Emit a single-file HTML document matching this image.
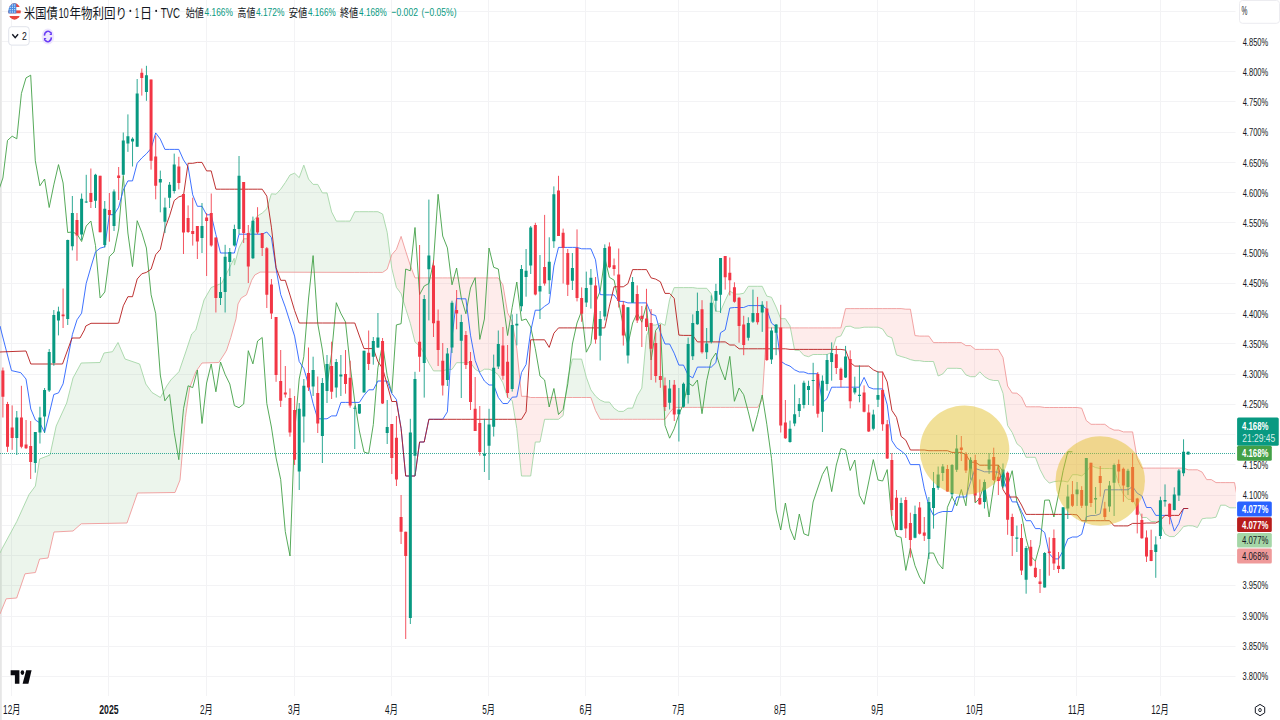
<!DOCTYPE html><html lang="ja"><head><meta charset="utf-8"><title>chart</title><style>html,body{margin:0;padding:0;background:#fff;font-family:"Liberation Sans","Noto Sans CJK JP",sans-serif}body{width:1280px;height:720px;overflow:hidden}svg{display:block}svg text{font-family:"Liberation Sans","Noto Sans CJK JP",sans-serif}</style></head><body><svg width="1280" height="720" viewBox="0 0 1280 720"><rect width="1280" height="720" fill="#fff"/><rect x="0" y="0" width="1.8" height="720" fill="#e6e6e6"/><path d="M11.5 0V696M108.5 0V696M206.5 0V696M294.5 0V696M391.5 0V696M488.5 0V696M585.5 0V696M678.5 0V696M780.5 0V696M877.5 0V696M974.5 0V696M1076.5 0V696M1160.5 0V696M2 11.5H1235.5M2 41.5H1235.5M2 71.5H1235.5M2 101.5H1235.5M2 132.5H1235.5M2 162.5H1235.5M2 192.5H1235.5M2 222.5H1235.5M2 253.5H1235.5M2 283.5H1235.5M2 313.5H1235.5M2 343.5H1235.5M2 374.5H1235.5M2 404.5H1235.5M2 434.5H1235.5M2 464.5H1235.5M2 495.5H1235.5M2 525.5H1235.5M2 555.5H1235.5M2 585.5H1235.5M2 616.5H1235.5M2 646.5H1235.5M2 676.5H1235.5" stroke="#f3f3f5" stroke-width="1" fill="none"/><defs><clipPath id="pane"><rect x="0" y="0" width="1236" height="697"/></clipPath></defs><g clip-path="url(#pane)"><path d="M0.0 553.0L2.0 548.8L6.2 540.9L16.7 521.7L25.0 503.4L29.0 494.6L35.4 486.0L39.6 459.0L48.0 455.8L50.0 455.0L54.0 436.4L56.2 426.0L66.7 403.0L73.0 378.0L81.2 363.0L100.0 362.5L104.0 353.0L112.5 351.7L118.0 342.5L125.0 359.0L127.0 359.7L137.5 363.3L139.6 364.0L145.8 384.0L152.0 392.5L160.4 397.5L166.7 386.0L170.8 380.0L175.0 375.7L179.0 371.7L180.0 368.8L185.4 353.0L189.6 340.3L191.7 334.0L195.8 330.0L202.0 307.3L204.0 300.0L211.2 287.5L218.8 284.5L221.7 283.3L225.0 276.7L226.7 273.3L229.0 268.8L230.8 265.1L234.2 258.3L234.4 265.1L236.0 259.2L238.0 251.7L239.0 247.9L241.2 243.5L243.7 238.8L246.5 238.8L248.3 238.8L251.7 225.8L252.9 221.1L254.8 219.0L257.6 215.9L260.0 214.4L262.2 213.1L266.8 208.8L271.4 193.8L276.1 194.2L280.7 189.2L285.3 182.6L290.0 175.0L294.6 173.2L299.2 177.7L303.8 165.1L308.5 179.0L313.1 184.4L317.7 184.4L322.4 192.9L327.0 192.9L331.6 211.9L336.3 221.1L340.9 221.1L345.5 221.1L350.1 221.1L354.8 211.7L359.4 211.7L364.0 211.7L368.7 211.7L373.3 211.7L377.9 211.7L382.6 214.0L387.2 232.4L390.6 258.6L390.6 258.6L387.2 269.2L382.6 272.4L377.9 272.4L373.3 272.4L368.7 272.4L364.0 272.4L359.4 272.4L354.8 272.4L350.1 272.4L345.5 272.4L340.9 272.4L336.3 272.3L331.6 272.3L327.0 272.3L322.4 272.3L317.7 272.3L313.1 272.3L308.5 272.3L303.8 272.2L299.2 272.2L294.6 272.2L290.0 272.2L285.3 272.2L280.7 272.2L276.1 272.2L271.4 272.1L266.8 272.1L262.2 272.1L260.0 272.1L257.6 273.5L254.8 275.0L252.9 278.2L251.7 280.2L248.3 289.8L246.5 294.8L243.7 296.5L241.2 298.0L239.0 302.1L238.0 304.0L236.0 318.8L234.4 324.5L234.2 325.2L230.8 337.5L229.0 343.0L226.7 350.0L225.0 353.0L221.7 358.0L218.8 362.5L211.2 362.7L204.0 362.9L202.0 363.0L195.8 371.7L191.7 382.5L189.6 388.0L185.4 417.5L180.0 480.0L179.0 482.5L175.0 492.5L170.8 492.6L166.7 492.6L160.4 492.7L152.0 492.8L145.8 492.9L139.6 493.0L137.5 493.0L127.0 523.0L125.0 523.0L118.0 523.1L112.5 523.2L104.0 523.4L100.0 523.4L81.2 523.8L73.0 531.0L66.7 531.3L56.2 531.9L54.0 532.0L50.0 549.3L48.0 558.0L39.6 559.0L35.4 572.5L29.0 573.3L25.0 573.8L16.7 598.0L6.2 598.8L2.0 609.0L0.0 614.0ZM565.4 397.5L567.8 378.4L572.4 359.0L577.0 359.1L581.6 359.1L586.3 377.2L590.9 389.9L595.5 396.1L600.2 400.1L604.8 402.1L609.4 402.1L614.1 408.3L618.7 411.4L623.3 411.4L627.9 408.2L632.6 408.1L637.2 395.9L641.8 388.1L646.5 335.5L651.1 325.0L655.7 325.0L660.4 323.1L665.0 325.4L669.6 299.5L674.2 287.6L678.9 287.6L683.5 287.6L688.1 287.6L692.8 287.6L697.4 288.3L702.0 288.3L706.7 288.3L711.3 293.8L715.9 311.2L720.5 311.4L725.2 300.5L729.8 290.9L734.4 294.1L739.1 294.1L743.7 293.3L748.3 286.3L753.0 286.3L757.6 286.3L762.2 286.3L766.8 296.1L771.5 297.3L776.1 307.1L780.7 318.7L785.4 318.7L790.0 325.8L790.4 327.9L790.4 327.9L790.0 327.9L785.4 327.9L780.7 327.9L776.1 327.9L771.5 327.9L766.8 327.9L762.2 399.9L757.6 407.4L753.0 407.4L748.3 407.4L743.7 407.4L739.1 407.4L734.4 407.4L729.8 407.4L725.2 407.4L720.5 407.4L715.9 407.4L711.3 407.4L706.7 407.4L702.0 407.4L697.4 407.4L692.8 407.4L688.1 407.4L683.5 407.4L678.9 407.4L674.2 407.4L669.6 412.7L665.0 419.3L660.4 419.3L655.7 419.3L651.1 419.3L646.5 419.3L641.8 419.3L637.2 419.3L632.6 419.3L627.9 419.3L623.3 419.3L618.7 419.3L614.1 419.3L609.4 419.3L604.8 419.3L600.2 419.3L595.5 410.5L590.9 397.5L586.3 397.5L581.6 397.5L577.0 397.5L572.4 397.5L567.8 397.5L565.4 397.5ZM1239.7 507.8L1243.7 507.8L1248.4 504.9L1253.0 508.3L1257.6 509.6L1261.5 514.4L1261.5 514.4L1257.6 514.4L1253.0 514.4L1248.4 514.4L1243.7 514.4L1239.7 507.8ZM1296.8 514.4L1299.3 508.5L1303.9 508.5L1303.9 514.4L1299.3 514.4L1296.8 514.4Z" fill="#43a047" fill-opacity="0.1"/><path d="M390.6 258.6L391.8 268.3L396.4 287.4L401.1 293.7L405.7 308.5L410.3 323.3L415.0 342.2L419.6 345.8L424.2 353.8L428.9 363.2L433.5 370.9L438.1 370.9L442.7 370.9L447.4 369.4L452.0 369.4L456.6 362.7L461.3 362.7L465.9 362.7L470.5 362.7L475.2 369.2L479.8 372.0L484.4 369.2L489.0 369.2L493.7 371.2L498.3 374.8L502.9 382.8L507.6 397.5L512.2 400.5L516.8 428.5L521.5 476.0L526.1 476.0L530.7 476.0L535.3 442.0L540.0 442.0L544.6 419.3L549.2 419.3L553.9 419.3L558.5 419.3L563.1 415.6L565.4 397.5L565.4 397.5L563.1 397.5L558.5 397.5L553.9 397.5L549.2 397.5L544.6 397.5L540.0 397.5L535.3 397.5L530.7 397.5L526.1 396.3L521.5 396.3L516.8 348.8L512.2 321.8L507.6 312.8L502.9 284.8L498.3 277.9L493.7 277.9L489.0 277.9L484.4 277.9L479.8 277.9L475.2 277.9L470.5 277.9L465.9 277.9L461.3 277.9L456.6 277.9L452.0 277.9L447.4 277.9L442.7 277.9L438.1 277.9L433.5 277.9L428.9 277.9L424.2 277.9L419.6 277.9L415.0 277.9L410.3 265.4L405.7 251.2L401.1 236.4L396.4 249.4L391.8 254.7L390.6 258.6ZM790.4 327.9L794.6 350.1L799.3 350.3L803.9 355.4L808.5 356.7L813.1 354.5L817.8 354.5L822.4 354.5L827.0 354.5L831.7 352.3L836.3 337.4L840.9 335.9L845.6 326.5L850.2 326.2L854.8 328.1L859.4 328.1L864.1 327.2L868.7 327.2L873.3 327.2L878.0 327.2L882.6 329.0L887.2 335.9L891.9 337.8L896.5 354.9L901.1 356.5L905.8 357.8L910.4 359.6L915.0 360.7L919.6 360.7L924.3 361.5L928.9 361.5L933.5 361.5L938.2 376.0L942.8 373.9L947.4 368.3L952.0 368.3L956.7 368.3L961.3 368.6L965.9 374.9L970.6 376.7L975.2 376.7L979.8 371.8L984.5 376.7L989.1 379.4L993.7 380.5L998.3 380.5L1003.0 393.3L1007.6 425.5L1012.2 432.5L1016.9 443.7L1021.5 447.5L1026.1 457.3L1030.8 457.3L1035.4 457.3L1040.0 469.4L1044.7 478.4L1049.3 483.1L1053.9 481.7L1058.5 481.1L1063.2 481.1L1067.8 482.0L1072.4 474.7L1077.1 474.7L1081.7 475.9L1086.3 472.0L1091.0 465.4L1095.6 467.6L1100.2 468.5L1104.8 468.5L1109.5 468.5L1114.1 468.8L1118.7 483.8L1123.4 494.1L1128.0 499.4L1132.6 499.4L1137.2 508.2L1141.9 517.5L1146.5 517.5L1151.1 521.5L1155.8 521.5L1160.4 523.5L1165.0 534.0L1169.7 536.6L1174.3 536.6L1178.9 532.4L1183.5 526.6L1188.2 525.7L1192.8 525.9L1197.4 527.5L1202.1 518.8L1206.7 518.1L1211.3 518.1L1216.0 517.2L1220.6 505.2L1225.2 505.2L1229.9 507.8L1234.5 507.8L1239.1 507.8L1239.7 507.8L1239.7 507.8L1239.1 506.9L1234.5 482.6L1229.9 482.6L1225.2 482.6L1220.6 482.6L1216.0 482.6L1211.3 479.6L1206.7 479.6L1202.1 472.1L1197.4 469.8L1192.8 469.8L1188.2 469.8L1183.5 468.1L1178.9 468.1L1174.3 468.1L1169.7 468.1L1165.0 468.1L1160.4 468.1L1155.8 468.1L1151.1 468.1L1146.5 468.1L1141.9 468.1L1137.2 458.7L1132.6 431.9L1128.0 431.9L1123.4 431.9L1118.7 430.1L1114.1 430.1L1109.5 427.9L1104.8 424.3L1100.2 424.3L1095.6 424.3L1091.0 424.3L1086.3 420.6L1081.7 408.2L1077.1 407.5L1072.4 407.5L1067.8 407.5L1063.2 407.5L1058.5 407.5L1053.9 407.5L1049.3 407.5L1044.7 407.5L1040.0 406.8L1035.4 406.8L1030.8 406.8L1026.1 406.8L1021.5 397.0L1016.9 393.2L1012.2 393.0L1007.6 386.0L1003.0 357.5L998.3 349.4L993.7 349.4L989.1 349.4L984.5 349.4L979.8 349.4L975.2 349.4L970.6 345.6L965.9 345.6L961.3 342.6L956.7 342.6L952.0 342.6L947.4 342.6L942.8 342.6L938.2 342.6L933.5 342.6L928.9 336.1L924.3 336.1L919.6 336.1L915.0 335.6L910.4 309.2L905.8 309.2L901.1 308.6L896.5 308.6L891.9 308.6L887.2 308.6L882.6 308.6L878.0 308.6L873.3 308.6L868.7 308.6L864.1 308.6L859.4 308.6L854.8 308.6L850.2 308.6L845.6 308.6L840.9 327.9L836.3 327.9L831.7 327.9L827.0 327.9L822.4 327.9L817.8 327.9L813.1 327.9L808.5 327.9L803.9 327.9L799.3 327.9L794.6 327.9L790.4 327.9ZM1261.5 514.4L1262.3 515.2L1266.9 515.2L1271.5 519.2L1276.2 517.8L1280.8 515.4L1285.4 515.4L1290.0 523.2L1294.7 519.4L1296.8 514.4L1296.8 514.4L1294.7 514.4L1290.0 514.4L1285.4 514.4L1280.8 514.4L1276.2 514.4L1271.5 514.4L1266.9 514.4L1262.3 514.4L1261.5 514.4Z" fill="#f44336" fill-opacity="0.1"/><polyline points="0.0,553.0 2.0,548.8 16.7,521.7 29.0,494.6 35.4,486.0 39.6,459.0 50.0,455.0 56.2,426.0 66.7,403.0 73.0,378.0 81.2,363.0 100.0,362.5 104.0,353.0 112.5,351.7 118.0,342.5 125.0,359.0 139.6,364.0 145.8,384.0 152.0,392.5 160.4,397.5 166.7,386.0 170.8,380.0 179.0,371.7 185.4,353.0 191.7,334.0 195.8,330.0 204.0,300.0 211.2,287.5 221.7,283.3 229.0,268.8 234.2,258.3 234.4,265.1 239.0,247.9 243.7,238.8 248.3,238.8 252.9,221.1 257.6,215.9 262.2,213.1 266.8,208.8 271.4,193.8 276.1,194.2 280.7,189.2 285.3,182.6 290.0,175.0 294.6,173.2 299.2,177.7 303.8,165.1 308.5,179.0 313.1,184.4 317.7,184.4 322.4,192.9 327.0,192.9 331.6,211.9 336.3,221.1 340.9,221.1 345.5,221.1 350.1,221.1 354.8,211.7 359.4,211.7 364.0,211.7 368.7,211.7 373.3,211.7 377.9,211.7 382.6,214.0 387.2,232.4 391.8,268.3 396.4,287.4 401.1,293.7 405.7,308.5 410.3,323.3 415.0,342.2 419.6,345.8 424.2,353.8 428.9,363.2 433.5,370.9 438.1,370.9 442.7,370.9 447.4,369.4 452.0,369.4 456.6,362.7 461.3,362.7 465.9,362.7 470.5,362.7 475.2,369.2 479.8,372.0 484.4,369.2 489.0,369.2 493.7,371.2 498.3,374.8 502.9,382.8 507.6,397.5 512.2,400.5 516.8,428.5 521.5,476.0 526.1,476.0 530.7,476.0 535.3,442.0 540.0,442.0 544.6,419.3 549.2,419.3 553.9,419.3 558.5,419.3 563.1,415.6 567.8,378.4 572.4,359.0 577.0,359.1 581.6,359.1 586.3,377.2 590.9,389.9 595.5,396.1 600.2,400.1 604.8,402.1 609.4,402.1 614.1,408.3 618.7,411.4 623.3,411.4 627.9,408.2 632.6,408.1 637.2,395.9 641.8,388.1 646.5,335.5 651.1,325.0 655.7,325.0 660.4,323.1 665.0,325.4 669.6,299.5 674.2,287.6 678.9,287.6 683.5,287.6 688.1,287.6 692.8,287.6 697.4,288.3 702.0,288.3 706.7,288.3 711.3,293.8 715.9,311.2 720.5,311.4 725.2,300.5 729.8,290.9 734.4,294.1 739.1,294.1 743.7,293.3 748.3,286.3 753.0,286.3 757.6,286.3 762.2,286.3 766.8,296.1 771.5,297.3 776.1,307.1 780.7,318.7 785.4,318.7 790.0,325.8 794.6,350.1 799.3,350.3 803.9,355.4 808.5,356.7 813.1,354.5 817.8,354.5 822.4,354.5 827.0,354.5 831.7,352.3 836.3,337.4 840.9,335.9 845.6,326.5 850.2,326.2 854.8,328.1 859.4,328.1 864.1,327.2 868.7,327.2 873.3,327.2 878.0,327.2 882.6,329.0 887.2,335.9 891.9,337.8 896.5,354.9 901.1,356.5 905.8,357.8 910.4,359.6 915.0,360.7 919.6,360.7 924.3,361.5 928.9,361.5 933.5,361.5 938.2,376.0 942.8,373.9 947.4,368.3 952.0,368.3 956.7,368.3 961.3,368.6 965.9,374.9 970.6,376.7 975.2,376.7 979.8,371.8 984.5,376.7 989.1,379.4 993.7,380.5 998.3,380.5 1003.0,393.3 1007.6,425.5 1012.2,432.5 1016.9,443.7 1021.5,447.5 1026.1,457.3 1030.8,457.3 1035.4,457.3 1040.0,469.4 1044.7,478.4 1049.3,483.1 1053.9,481.7 1058.5,481.1 1063.2,481.1 1067.8,482.0 1072.4,474.7 1077.1,474.7 1081.7,475.9 1086.3,472.0 1091.0,465.4 1095.6,467.6 1100.2,468.5 1104.8,468.5 1109.5,468.5 1114.1,468.8 1118.7,483.8 1123.4,494.1 1128.0,499.4 1132.6,499.4 1137.2,508.2 1141.9,517.5 1146.5,517.5 1151.1,521.5 1155.8,521.5 1160.4,523.5 1165.0,534.0 1169.7,536.6 1174.3,536.6 1178.9,532.4 1183.5,526.6 1188.2,525.7 1192.8,525.9 1197.4,527.5 1202.1,518.8 1206.7,518.1 1211.3,518.1 1216.0,517.2 1220.6,505.2 1225.2,505.2 1229.9,507.8 1234.5,507.8 1239.1,507.8 1243.7,507.8 1248.4,504.9 1253.0,508.3 1257.6,509.6 1262.3,515.2 1266.9,515.2 1271.5,519.2 1276.2,517.8 1280.8,515.4 1285.4,515.4 1290.0,523.2 1294.7,519.4 1299.3,508.5 1303.9,508.5" fill="none" stroke="#a5d6a7" stroke-width="0.9" stroke-linejoin="round" /><polyline points="0.0,614.0 2.0,609.0 6.2,598.8 16.7,598.0 25.0,573.8 35.4,572.5 39.6,559.0 48.0,558.0 54.0,532.0 73.0,531.0 81.2,523.8 127.0,523.0 137.5,493.0 175.0,492.5 180.0,480.0 185.4,417.5 189.6,388.0 195.8,371.7 202.0,363.0 218.8,362.5 225.0,353.0 226.7,350.0 230.8,337.5 236.0,318.8 238.0,304.0 241.2,298.0 246.5,294.8 251.7,280.2 254.8,275.0 260.0,272.1 354.8,272.4 359.4,272.4 364.0,272.4 368.7,272.4 373.3,272.4 377.9,272.4 382.6,272.4 387.2,269.2 391.8,254.7 396.4,249.4 401.1,236.4 405.7,251.2 410.3,265.4 415.0,277.9 419.6,277.9 424.2,277.9 428.9,277.9 433.5,277.9 438.1,277.9 442.7,277.9 447.4,277.9 452.0,277.9 456.6,277.9 461.3,277.9 465.9,277.9 470.5,277.9 475.2,277.9 479.8,277.9 484.4,277.9 489.0,277.9 493.7,277.9 498.3,277.9 502.9,284.8 507.6,312.8 512.2,321.8 516.8,348.8 521.5,396.3 526.1,396.3 530.7,397.5 535.3,397.5 540.0,397.5 544.6,397.5 549.2,397.5 553.9,397.5 558.5,397.5 563.1,397.5 567.8,397.5 572.4,397.5 577.0,397.5 581.6,397.5 586.3,397.5 590.9,397.5 595.5,410.5 600.2,419.3 604.8,419.3 609.4,419.3 614.1,419.3 618.7,419.3 623.3,419.3 627.9,419.3 632.6,419.3 637.2,419.3 641.8,419.3 646.5,419.3 651.1,419.3 655.7,419.3 660.4,419.3 665.0,419.3 669.6,412.7 674.2,407.4 678.9,407.4 683.5,407.4 688.1,407.4 692.8,407.4 697.4,407.4 702.0,407.4 706.7,407.4 711.3,407.4 715.9,407.4 720.5,407.4 725.2,407.4 729.8,407.4 734.4,407.4 739.1,407.4 743.7,407.4 748.3,407.4 753.0,407.4 757.6,407.4 762.2,399.9 766.8,327.9 771.5,327.9 776.1,327.9 780.7,327.9 785.4,327.9 790.0,327.9 794.6,327.9 799.3,327.9 803.9,327.9 808.5,327.9 813.1,327.9 817.8,327.9 822.4,327.9 827.0,327.9 831.7,327.9 836.3,327.9 840.9,327.9 845.6,308.6 850.2,308.6 854.8,308.6 859.4,308.6 864.1,308.6 868.7,308.6 873.3,308.6 878.0,308.6 882.6,308.6 887.2,308.6 891.9,308.6 896.5,308.6 901.1,308.6 905.8,309.2 910.4,309.2 915.0,335.6 919.6,336.1 924.3,336.1 928.9,336.1 933.5,342.6 938.2,342.6 942.8,342.6 947.4,342.6 952.0,342.6 956.7,342.6 961.3,342.6 965.9,345.6 970.6,345.6 975.2,349.4 979.8,349.4 984.5,349.4 989.1,349.4 993.7,349.4 998.3,349.4 1003.0,357.5 1007.6,386.0 1012.2,393.0 1016.9,393.2 1021.5,397.0 1026.1,406.8 1030.8,406.8 1035.4,406.8 1040.0,406.8 1044.7,407.5 1049.3,407.5 1053.9,407.5 1058.5,407.5 1063.2,407.5 1067.8,407.5 1072.4,407.5 1077.1,407.5 1081.7,408.2 1086.3,420.6 1091.0,424.3 1095.6,424.3 1100.2,424.3 1104.8,424.3 1109.5,427.9 1114.1,430.1 1118.7,430.1 1123.4,431.9 1128.0,431.9 1132.6,431.9 1137.2,458.7 1141.9,468.1 1146.5,468.1 1151.1,468.1 1155.8,468.1 1160.4,468.1 1165.0,468.1 1169.7,468.1 1174.3,468.1 1178.9,468.1 1183.5,468.1 1188.2,469.8 1192.8,469.8 1197.4,469.8 1202.1,472.1 1206.7,479.6 1211.3,479.6 1216.0,482.6 1220.6,482.6 1225.2,482.6 1229.9,482.6 1234.5,482.6 1239.1,506.9 1243.7,514.4 1248.4,514.4 1253.0,514.4 1257.6,514.4 1262.3,514.4 1266.9,514.4 1271.5,514.4 1276.2,514.4 1280.8,514.4 1285.4,514.4 1290.0,514.4 1294.7,514.4 1299.3,514.4 1303.9,514.4" fill="none" stroke="#ef9a9a" stroke-width="0.9" stroke-linejoin="round" /><polyline points="-1.7,191.5 2.9,178.0 7.5,140.4 12.2,136.2 16.8,138.8 21.4,93.5 26.0,77.9 30.7,75.2 35.3,160.8 39.9,185.8 44.6,179.0 49.2,207.5 53.8,184.8 58.5,164.6 63.1,183.0 67.7,232.5 72.4,232.0 77.0,234.0 81.6,241.5 86.2,226.0 90.9,221.0 95.5,245.6 100.1,298.0 104.8,292.0 109.4,256.7 114.0,252.0 118.7,229.0 123.3,175.8 127.9,233.0 132.5,266.6 137.2,220.7 141.8,232.5 146.4,248.0 151.1,294.8 155.7,313.6 160.3,375.0 164.9,400.8 169.6,394.5 174.2,432.5 178.8,459.7 183.5,408.7 188.1,385.8 192.7,387.6 197.4,370.0 202.0,423.5 206.6,383.0 211.2,364.0 215.9,391.8 220.5,362.0 225.1,374.4 229.8,384.0 234.4,405.6 239.0,407.7 243.7,404.0 248.3,350.7 252.9,363.9 257.6,341.0 262.2,337.5 266.8,403.5 271.4,427.0 276.1,458.0 280.7,479.5 285.3,531.7 290.0,556.0 294.6,432.5 299.2,379.0 303.8,356.7 308.5,299.0 313.1,255.6 317.7,323.3 322.4,350.0 327.0,385.6 331.6,353.5 336.3,302.7 340.9,313.5 345.5,322.0 350.1,365.0 354.8,402.0 359.4,431.0 364.0,452.0 368.7,453.6 373.3,424.6 377.9,367.8 382.6,344.0 387.2,375.8 391.8,393.0 396.4,324.9 401.1,323.7 405.7,269.0 410.3,270.8 415.0,227.5 419.6,294.6 424.2,286.0 428.9,283.5 433.5,261.8 438.1,194.3 442.7,236.0 447.4,247.9 452.0,284.8 456.6,268.0 461.3,298.0 465.9,313.8 470.5,288.0 475.2,277.7 479.8,339.4 484.4,319.0 489.0,248.0 493.7,267.3 498.3,269.0 502.9,301.0 507.6,335.5 512.2,307.3 516.8,282.0 521.5,320.5 526.1,319.0 530.7,327.0 535.3,348.7 540.0,376.0 544.6,380.0 549.2,407.0 553.9,388.5 558.5,414.5 563.1,409.4 567.8,383.8 572.4,344.0 577.0,323.0 581.6,311.0 586.3,352.2 590.9,343.5 595.5,302.7 600.2,291.0 604.8,258.0 609.4,277.3 614.1,280.2 618.7,301.8 623.3,326.0 627.9,345.0 632.6,323.0 637.2,313.0 641.8,322.2 646.5,304.8 651.1,360.0 655.7,330.4 660.4,324.6 665.0,425.4 669.6,438.2 674.2,428.8 678.9,414.2 683.5,404.0 688.1,382.8 692.8,386.0 697.4,380.0 702.0,413.7 706.7,380.7 711.3,360.0 715.9,353.0 720.5,368.0 725.2,380.0 729.8,356.4 734.4,401.3 739.1,388.0 743.7,394.7 748.3,411.8 753.0,431.4 757.6,414.5 762.2,395.0 766.8,424.2 771.5,458.5 776.1,510.0 780.7,530.0 785.4,503.0 790.0,528.6 794.6,540.0 799.3,514.0 803.9,533.8 808.5,535.7 813.1,502.0 817.8,488.0 822.4,474.5 827.0,466.5 831.7,491.6 836.3,465.0 840.9,448.6 845.6,450.0 850.2,470.5 854.8,460.0 859.4,495.4 864.1,504.3 868.7,482.0 873.3,459.6 878.0,480.0 882.6,481.0 887.2,469.6 891.9,519.8 896.5,536.0 901.1,537.4 905.8,570.4 910.4,548.0 915.0,565.7 919.6,577.0 924.3,584.0 928.9,553.0 933.5,553.0 938.2,563.5 942.8,569.0 947.4,507.3 952.0,496.5 956.7,505.8 961.3,489.5 965.9,505.8 970.6,458.0 975.2,503.0 979.8,498.0 984.5,483.0 989.1,517.0 993.7,485.5 998.3,464.9 1003.0,471.5 1007.6,485.5 1012.2,470.7 1016.9,502.0 1021.5,514.7 1026.1,538.3 1030.8,556.4 1035.4,561.1 1040.0,544.5 1044.7,500.2 1049.3,500.0 1053.9,517.0 1058.5,494.4 1063.2,470.4 1067.8,451.8 1072.4,451.8" fill="none" stroke="#43a047" stroke-width="0.9" stroke-linejoin="round" /><polyline points="0.0,326.0 2.0,334.0 11.5,370.6 20.8,372.7 26.0,379.0 30.8,409.0 35.4,420.0 39.6,422.7 39.9,423.2 44.6,432.4 49.2,414.0 53.8,394.5 58.5,392.9 63.1,383.8 67.7,359.3 72.4,334.4 77.0,319.8 81.6,313.2 86.2,283.4 90.9,267.1 95.5,251.9 100.1,248.2 104.8,246.8 109.4,214.7 114.0,214.7 118.7,207.2 123.3,190.0 127.9,180.9 132.5,180.9 137.2,163.2 141.8,158.0 146.4,153.8 151.1,148.4 155.7,132.9 160.3,139.1 164.9,149.4 169.6,149.4 174.2,149.4 178.8,149.4 183.5,159.9 188.1,166.8 192.7,194.8 197.4,206.3 202.0,206.3 206.6,214.8 211.2,214.8 215.9,234.7 220.5,253.0 225.1,253.0 229.8,253.0 234.4,253.0 239.0,234.2 243.7,234.2 248.3,234.2 252.9,234.2 257.6,234.2 262.2,234.2 266.8,232.0 271.4,237.5 276.1,268.9 280.7,294.5 285.3,307.1 290.0,321.9 294.6,336.1 299.2,361.5 303.8,368.5 308.5,384.5 313.1,403.5 317.7,418.8 322.4,418.8 327.0,418.8 331.6,415.9 336.3,415.9 340.9,402.4 345.5,402.4 350.1,402.4 354.8,402.4 359.4,402.4 364.0,395.4 368.7,389.8 373.3,389.8 377.9,381.0 382.6,381.0 387.2,381.0 391.8,393.5 396.4,399.5 401.1,428.5 405.7,476.0 410.3,476.0 415.0,476.0 419.6,442.0 424.2,442.0 428.9,419.3 433.5,419.3 438.1,419.3 442.7,419.3 447.4,411.8 452.0,337.6 456.6,298.6 461.3,298.8 465.9,298.8 470.5,335.2 475.2,360.5 479.8,372.9 484.4,381.0 489.0,385.0 493.7,385.0 498.3,397.4 502.9,403.5 507.6,403.5 512.2,397.2 516.8,396.9 521.5,372.5 526.1,364.5 530.7,331.2 535.3,310.2 540.0,310.2 544.6,306.3 549.2,303.2 553.9,265.9 558.5,247.4 563.1,247.4 567.8,247.4 572.4,247.4 577.0,247.4 581.6,248.8 586.3,248.8 590.9,248.8 595.5,259.8 600.2,294.6 604.8,294.9 609.4,294.9 614.1,294.9 618.7,301.4 623.3,301.4 627.9,302.9 632.6,302.9 637.2,302.9 641.8,302.9 646.5,302.9 651.1,314.2 655.7,315.5 660.4,332.4 665.0,344.0 669.6,344.0 674.2,353.2 678.9,365.1 683.5,365.1 688.1,375.2 692.8,377.9 697.4,367.1 702.0,367.1 706.7,367.1 711.3,367.1 715.9,362.6 720.5,332.8 725.2,329.8 729.8,308.0 734.4,307.5 739.1,307.5 743.7,307.5 748.3,305.6 753.0,305.6 757.6,305.6 762.2,305.6 766.8,309.2 771.5,323.1 776.1,326.8 780.7,361.1 785.4,364.3 790.0,366.1 794.6,369.8 799.3,372.0 803.9,372.0 808.5,373.7 813.1,373.7 817.8,373.7 822.4,402.7 827.0,398.5 831.7,387.2 836.3,387.2 840.9,387.2 845.6,387.2 850.2,387.2 854.8,387.2 859.4,387.2 864.1,377.4 868.7,387.2 873.3,388.9 878.0,388.9 882.6,388.9 887.2,404.7 891.9,440.7 896.5,447.7 901.1,450.9 905.8,454.8 910.4,464.6 915.0,464.6 919.6,464.6 924.3,488.8 928.9,506.0 933.5,515.5 938.2,512.8 942.8,511.5 947.4,511.5 952.0,511.5 956.7,497.0 961.3,497.0 965.9,497.0 970.6,481.8 975.2,468.5 979.8,470.0 984.5,471.8 989.1,471.8 993.7,471.8 998.3,472.2 1003.0,478.1 1007.6,491.2 1012.2,501.9 1016.9,501.9 1021.5,511.4 1026.1,520.7 1030.8,520.7 1035.4,528.6 1040.0,528.6 1044.7,532.6 1049.3,553.7 1053.9,558.9 1058.5,558.9 1063.2,550.5 1067.8,538.9 1072.4,537.0 1077.1,537.0 1081.7,534.3 1086.3,516.9 1091.0,515.5 1095.6,515.5 1100.2,513.8 1104.8,489.8 1109.5,489.8 1114.1,489.8 1118.7,489.8 1123.4,489.8 1128.0,489.8 1132.6,486.5 1137.2,493.2 1141.9,495.9 1146.5,507.5 1151.1,507.5 1155.8,515.4 1160.4,515.4 1165.0,515.4 1169.7,515.4 1174.3,531.1 1178.9,523.4 1183.5,508.5 1188.2,508.5" fill="none" stroke="#2962ff" stroke-width="0.9" stroke-linejoin="round" /><polyline points="0.0,352.0 2.0,351.9 26.0,351.0 30.8,364.0 62.5,364.0 72.0,338.0 80.0,338.0 84.4,330.0 85.8,326.0 91.0,323.3 117.0,323.3 118.7,323.0 123.3,305.8 127.9,296.7 132.5,296.7 137.2,279.0 141.8,273.8 146.4,272.4 151.1,269.2 155.7,254.7 160.3,249.4 164.9,228.9 169.6,215.8 174.2,200.6 178.8,196.9 183.5,195.4 188.1,163.3 192.7,163.3 197.4,162.4 202.0,162.4 206.6,170.9 211.2,170.9 215.9,189.2 220.5,189.2 225.1,189.2 229.8,189.2 234.4,189.2 239.0,189.2 243.7,189.2 248.3,189.2 252.9,189.2 257.6,189.2 262.2,189.2 266.8,196.1 271.4,227.2 276.1,267.7 280.7,280.3 285.3,280.3 290.0,295.1 294.6,310.5 299.2,323.0 303.8,323.0 308.5,323.0 313.1,323.0 317.7,323.0 322.4,323.0 327.0,323.0 331.6,323.0 336.3,323.0 340.9,323.0 345.5,323.0 350.1,323.0 354.8,323.0 359.4,336.0 364.0,348.6 368.7,348.6 373.3,348.6 377.9,361.5 382.6,368.5 387.2,384.5 391.8,401.5 396.4,401.5 401.1,428.5 405.7,476.0 410.3,476.0 415.0,476.0 419.6,442.0 424.2,442.0 428.9,419.3 433.5,419.3 438.1,419.3 442.7,419.3 447.4,419.3 452.0,419.3 456.6,419.3 461.3,419.3 465.9,419.3 470.5,419.3 475.2,419.3 479.8,419.3 484.4,419.3 489.0,419.3 493.7,419.3 498.3,419.3 502.9,419.3 507.6,419.3 512.2,419.3 516.8,419.3 521.5,419.3 526.1,411.8 530.7,339.8 535.3,339.8 540.0,339.8 544.6,339.8 549.2,347.4 553.9,333.2 558.5,327.9 563.1,327.9 567.8,327.9 572.4,327.9 577.0,327.9 581.6,327.9 586.3,327.9 590.9,327.9 595.5,327.9 600.2,327.9 604.8,327.9 609.4,306.1 614.1,286.8 618.7,286.8 623.3,286.8 627.9,283.7 632.6,269.6 637.2,269.6 641.8,269.6 646.5,269.6 651.1,277.9 655.7,279.1 660.4,281.8 665.0,293.4 669.6,293.4 674.2,298.4 678.9,335.1 683.5,335.4 688.1,335.4 692.8,335.4 697.4,341.9 702.0,341.9 706.7,341.9 711.3,341.9 715.9,341.9 720.5,341.9 725.2,341.9 729.8,345.0 734.4,345.0 739.1,348.8 743.7,348.8 748.3,348.8 753.0,348.8 757.6,348.8 762.2,348.8 766.8,348.8 771.5,348.8 776.1,348.8 780.7,348.8 785.4,348.8 790.0,349.4 794.6,349.4 799.3,349.4 803.9,349.4 808.5,349.4 813.1,349.4 817.8,349.4 822.4,349.4 827.0,349.4 831.7,349.4 836.3,349.4 840.9,349.4 845.6,350.1 850.2,362.5 854.8,366.1 859.4,366.1 864.1,366.1 868.7,366.1 873.3,369.8 878.0,372.0 882.6,372.0 887.2,381.9 891.9,410.4 896.5,417.4 901.1,436.4 905.8,440.2 910.4,450.0 915.0,450.0 919.6,450.0 924.3,450.0 928.9,450.7 933.5,450.7 938.2,450.7 942.8,450.7 947.4,450.7 952.0,452.4 956.7,452.4 961.3,452.4 965.9,454.7 970.6,462.2 975.2,462.2 979.8,465.2 984.5,465.2 989.1,465.2 993.7,465.2 998.3,465.2 1003.0,489.5 1007.6,497.0 1012.2,497.0 1016.9,497.0 1021.5,505.0 1026.1,514.4 1030.8,514.4 1035.4,514.4 1040.0,514.4 1044.7,514.4 1049.3,514.4 1053.9,514.4 1058.5,514.4 1063.2,514.4 1067.8,514.4 1072.4,514.4 1077.1,514.9 1081.7,520.7 1086.3,520.7 1091.0,520.7 1095.6,520.7 1100.2,520.7 1104.8,520.7 1109.5,520.7 1114.1,525.9 1118.7,525.9 1123.4,525.9 1128.0,525.9 1132.6,523.4 1137.2,523.4 1141.9,523.4 1146.5,523.0 1151.1,523.0 1155.8,523.0 1160.4,520.3 1165.0,515.4 1169.7,515.4 1174.3,515.4 1178.9,515.4 1183.5,508.5 1188.2,508.5" fill="none" stroke="#b71c1c" stroke-width="0.9" stroke-linejoin="round" /><path d="M0 453.5H1235" stroke="#089981" stroke-width="1" stroke-dasharray="1 1" stroke-opacity="0.8" fill="none"/><path d="M16.79 411.0V455.0M35.31 432.0V472.7M39.94 406.7V443.5M44.57 388.0V433.0M49.20 349.0V392.0M53.83 310.0V365.8M58.46 306.7V335.4M67.72 239.6V325.0M72.35 196.0V250.4M81.61 193.5V240.0M86.24 174.8V203.0M95.50 173.8V208.0M104.76 201.0V247.5M114.02 189.4V231.0M123.28 132.5V175.8M127.91 114.4V151.9M132.54 137.3V166.5M137.17 79.0V146.7M146.43 65.8V100.8M160.32 170.6V212.3M164.95 197.7V233.0M169.58 182.0V208.0M174.21 153.6V193.5M201.99 203.0V253.0M220.51 277.0V305.0M225.14 244.8V312.5M229.77 248.0V276.0M234.40 224.7V246.5M239.03 156.0V234.0M252.92 216.6V259.0M299.22 403.0V490.0M303.85 379.0V442.5M313.11 356.7V396.0M322.37 378.0V463.0M327.00 355.0V403.0M336.26 359.0V397.6M340.89 355.0V396.0M354.78 405.6V449.0M359.41 404.0V414.0M364.04 350.7V392.4M373.30 337.0V364.7M377.93 313.0V348.0M387.19 400.0V444.0M410.34 418.8V624.0M414.97 371.8V475.5M424.23 295.0V397.6M428.86 199.6V320.4M447.38 348.0V386.0M452.01 300.7V353.0M461.27 314.7V398.0M484.42 418.8V472.0M489.05 408.8V480.0M493.68 354.6V436.5M498.31 330.5V369.0M512.20 314.4V391.6M516.83 313.8V345.4M521.46 265.0V311.3M526.09 249.0V296.7M530.72 226.0V274.0M539.98 255.0V319.0M549.24 237.3V294.0M553.87 186.4V247.9M572.39 253.0V290.0M586.28 271.6V307.0M590.91 269.0V308.6M600.17 311.0V360.5M604.80 244.4V320.4M627.95 307.3V363.5M632.58 277.0V303.0M669.62 380.0V409.5M678.88 388.0V441.5M683.51 382.5V407.6M688.14 337.6V403.6M692.77 314.4V360.0M697.40 292.6V324.8M706.66 328.0V359.0M711.29 295.4V343.5M715.92 283.8V311.5M720.55 258.0V313.0M748.33 317.3V340.6M752.96 289.6V323.0M762.22 301.2V331.9M771.48 327.5V364.0M776.11 324.0V355.2M790.00 420.6V442.7M794.63 384.5V426.2M799.26 398.0V417.0M803.89 380.7V408.4M808.52 380.7V405.0M813.15 362.8V405.8M822.41 375.4V432.0M827.04 354.3V390.7M831.67 342.4V380.7M845.56 345.9V378.0M854.82 376.7V394.4M859.45 365.4V402.3M873.34 409.7V430.3M877.97 371.5V407.0M901.12 497.7V530.4M915.01 505.6V538.3M928.90 497.0V559.0M933.53 472.0V528.6M938.16 466.5V489.8M942.79 464.0V481.0M952.05 464.0V497.0M956.68 435.0V472.0M970.57 457.0V479.7M984.46 479.5V508.5M989.09 453.0V474.0M1002.98 463.5V488.0M1016.87 525.6V552.0M1026.13 546.0V593.7M1044.65 552.0V587.6M1063.17 507.3V569.5M1067.80 484.7V519.0M1077.06 482.0V506.0M1086.32 458.0V521.6M1095.58 487.0V513.7M1109.47 481.0V511.8M1114.10 463.5V516.0M1127.99 468.8V495.0M1155.77 536.3V577.8M1160.40 496.7V539.0M1165.03 484.4V506.7M1174.29 487.3V510.4M1178.92 469.0V501.0M1183.55 439.3V476.2M1188.18 451.5V454.8" stroke="#089981" stroke-width="0.85" fill="none"/><path d="M2.90 367.5V417.5M7.53 401.9V451.9M12.16 405.4V449.8M21.42 385.8V448.3M26.05 420.0V449.0M30.68 421.0V479.0M63.09 288.5V328.0M76.98 213.0V260.8M90.87 168.5V208.0M100.13 175.8V232.3M109.39 193.0V241.7M118.65 167.0V200.0M141.80 68.5V95.6M151.06 79.6V169.6M155.69 135.5V199.3M178.84 156.8V189.4M183.47 194.0V254.0M188.10 205.4V233.0M192.73 197.7V245.6M197.36 226.0V259.0M206.62 213.0V276.0M211.25 193.5V246.7M215.88 237.5V312.5M243.66 182.0V243.0M248.29 225.0V283.0M257.55 207.2V234.2M262.18 233.0V256.0M266.81 247.0V308.0M271.44 279.0V319.0M276.07 317.0V381.8M280.70 350.0V407.0M285.33 366.0V397.6M289.96 388.4V436.7M294.59 396.0V465.0M308.48 347.5V391.0M317.74 376.5V433.0M331.63 341.7V399.0M345.52 350.0V393.7M350.15 360.7V407.7M368.67 330.5V370.0M382.56 338.0V404.0M391.82 424.0V474.0M396.45 416.0V486.0M401.08 495.0V544.0M405.71 531.7V639.0M419.60 245.0V371.8M433.49 260.4V337.0M438.12 309.5V366.0M442.75 343.0V395.5M456.64 290.0V329.3M465.90 331.0V369.0M470.53 352.0V410.0M475.16 377.0V431.0M479.79 406.0V455.7M502.94 327.0V379.7M507.57 345.0V397.7M535.35 222.8V295.4M544.61 214.9V285.6M558.50 175.8V236.0M563.13 228.6V283.5M567.76 249.0V296.0M577.02 229.4V301.4M581.65 287.4V321.8M595.54 277.0V343.7M609.43 242.4V268.2M614.06 258.5V275.6M618.69 248.5V307.5M623.32 301.0V345.6M637.21 285.4V323.0M641.84 306.0V347.0M646.47 288.8V331.0M651.10 309.0V380.0M655.73 332.4V382.5M660.36 324.5V387.8M664.99 377.5V411.0M674.25 380.0V421.0M702.03 300.2V353.6M725.18 256.0V289.6M729.81 257.5V295.4M734.44 282.3V302.7M739.07 296.9V342.7M743.70 315.8V355.2M757.59 296.9V324.6M766.85 301.2V361.0M780.74 304.8V432.5M785.37 400.0V439.0M817.78 372.0V417.6M836.30 345.9V374.0M840.93 367.5V387.3M850.19 350.4V408.4M864.08 385.4V412.4M868.71 404.4V432.0M882.60 371.5V430.8M887.23 420.0V459.0M891.86 453.0V516.0M896.49 490.0V530.0M905.75 497.0V538.0M910.38 512.7V557.6M919.64 502.0V534.6M924.27 517.0V541.0M947.42 465.0V491.6M961.31 436.0V461.0M965.94 452.0V473.0M975.20 454.7V502.0M979.83 479.4V505.0M993.72 447.7V481.0M998.35 466.0V495.0M1007.61 471.5V534.8M1012.24 513.7V556.0M1021.50 524.0V575.0M1030.76 540.0V566.5M1035.39 561.0V578.0M1040.02 569.0V593.0M1049.28 537.4V575.7M1053.91 529.5V570.0M1058.54 552.0V573.0M1072.43 481.0V507.0M1081.69 486.2V508.0M1090.95 462.8V507.0M1100.21 466.0V496.5M1104.84 501.8V520.0M1118.73 459.6V483.0M1123.36 467.5V501.8M1132.62 453.0V502.5M1137.25 497.8V533.4M1141.88 513.7V538.8M1146.51 530.4V562.0M1151.14 529.7V561.2M1169.66 503.3V524.4" stroke="#f23645" stroke-width="0.85" fill="none"/><path d="M15.29 417.5h3v20.4h-3ZM33.81 432.0h3v31.0h-3ZM38.44 417.5h3v15.0h-3ZM43.07 390.0h3v26.5h-3ZM47.70 352.0h3v38.4h-3ZM52.33 315.0h3v48.0h-3ZM56.96 311.5h3v8.9h-3ZM66.22 240.0h3v79.0h-3ZM70.85 213.0h3v33.3h-3ZM80.11 198.8h3v35.7h-3ZM84.74 201.5h3v1.0h-3ZM94.00 174.8h3v26.0h-3ZM103.26 208.8h3v36.1h-3ZM112.52 191.5h3v34.5h-3ZM121.78 140.4h3v34.4h-3ZM126.41 136.2h3v7.2h-3ZM131.04 138.8h3v2.8h-3ZM135.67 93.5h3v53.2h-3ZM144.93 75.2h3v16.9h-3ZM158.82 179.0h3v3.5h-3ZM163.45 207.5h3v14.2h-3ZM168.08 184.8h3v12.9h-3ZM172.71 164.6h3v26.4h-3ZM200.49 226.0h3v12.0h-3ZM219.01 292.0h3v6.0h-3ZM223.64 256.7h3v35.3h-3ZM228.27 252.0h3v10.0h-3ZM232.90 229.0h3v16.5h-3ZM237.53 175.8h3v53.2h-3ZM251.42 220.7h3v37.5h-3ZM297.72 408.7h3v62.8h-3ZM302.35 385.8h3v30.8h-3ZM311.61 370.0h3v16.6h-3ZM320.87 383.0h3v53.0h-3ZM325.50 364.0h3v27.0h-3ZM334.76 362.0h3v25.6h-3ZM339.39 374.4h3v2.1h-3ZM353.28 407.7h3v1.0h-3ZM357.91 404.0h3v9.5h-3ZM362.54 350.7h3v41.7h-3ZM371.80 341.0h3v15.7h-3ZM376.43 337.5h3v10.0h-3ZM385.69 427.0h3v6.0h-3ZM408.84 432.5h3v185.5h-3ZM413.47 379.0h3v76.7h-3ZM422.73 299.0h3v64.0h-3ZM427.36 255.6h3v13.7h-3ZM445.88 353.5h3v26.5h-3ZM450.51 302.7h3v44.8h-3ZM459.77 322.0h3v18.7h-3ZM482.92 453.6h3v2.1h-3ZM487.55 424.6h3v21.1h-3ZM492.18 367.8h3v58.9h-3ZM496.81 344.0h3v22.5h-3ZM510.70 324.9h3v64.1h-3ZM515.33 323.7h3v1.9h-3ZM519.96 269.0h3v37.2h-3ZM524.59 270.8h3v6.2h-3ZM529.22 227.5h3v38.0h-3ZM538.48 286.0h3v5.4h-3ZM547.74 261.8h3v18.5h-3ZM552.37 194.3h3v47.0h-3ZM570.89 268.0h3v12.8h-3ZM584.78 288.0h3v14.5h-3ZM589.41 277.7h3v7.1h-3ZM598.67 319.0h3v16.8h-3ZM603.30 248.0h3v68.5h-3ZM626.45 307.3h3v48.3h-3ZM631.08 282.0h3v20.8h-3ZM668.12 388.5h3v14.3h-3ZM677.38 409.4h3v4.8h-3ZM682.01 383.8h3v23.0h-3ZM686.64 344.0h3v51.0h-3ZM691.27 323.0h3v33.3h-3ZM695.90 311.0h3v13.3h-3ZM705.16 343.5h3v8.7h-3ZM709.79 302.7h3v39.3h-3ZM714.42 291.0h3v9.7h-3ZM719.05 258.0h3v36.8h-3ZM746.83 323.0h3v14.7h-3ZM751.46 313.0h3v8.7h-3ZM760.72 304.8h3v7.6h-3ZM769.98 330.4h3v29.2h-3ZM774.61 324.6h3v8.1h-3ZM788.50 428.8h3v13.2h-3ZM793.13 414.2h3v9.4h-3ZM797.76 404.0h3v7.0h-3ZM802.39 382.8h3v22.2h-3ZM807.02 386.0h3v4.0h-3ZM811.65 380.0h3v1.0h-3ZM820.91 380.7h3v31.1h-3ZM825.54 360.0h3v23.9h-3ZM830.17 353.0h3v9.0h-3ZM844.06 356.4h3v21.1h-3ZM853.32 388.0h3v4.6h-3ZM857.95 394.7h3v1.3h-3ZM871.84 414.5h3v14.2h-3ZM876.47 395.0h3v4.7h-3ZM899.62 503.0h3v27.0h-3ZM913.51 514.0h3v23.8h-3ZM927.40 502.0h3v37.0h-3ZM932.03 488.0h3v20.0h-3ZM936.66 474.5h3v13.2h-3ZM941.29 466.5h3v6.5h-3ZM950.55 465.0h3v29.2h-3ZM955.18 448.6h3v21.1h-3ZM969.07 460.0h3v8.6h-3ZM982.96 482.0h3v20.0h-3ZM987.59 459.6h3v10.0h-3ZM1001.48 469.6h3v16.9h-3ZM1015.37 537.4h3v1.4h-3ZM1024.63 548.0h3v31.7h-3ZM1043.15 553.0h3v34.6h-3ZM1061.67 507.3h3v61.7h-3ZM1066.30 496.5h3v11.9h-3ZM1075.56 489.5h3v4.7h-3ZM1084.82 458.0h3v47.8h-3ZM1094.08 498.0h3v1.5h-3ZM1107.97 485.5h3v21.1h-3ZM1112.60 464.9h3v17.9h-3ZM1126.49 470.7h3v16.3h-3ZM1154.27 544.5h3v7.5h-3ZM1158.90 500.2h3v35.9h-3ZM1163.53 500.0h3v1.5h-3ZM1172.79 494.4h3v15.6h-3ZM1177.42 470.4h3v25.1h-3ZM1182.05 451.8h3v21.5h-3ZM1186.68 451.8h3v2.8h-3Z" fill="#089981"/><path d="M1.40 370.6h3v26.1h-3ZM6.03 404.0h3v42.7h-3ZM10.66 427.5h3v10.4h-3ZM19.92 417.5h3v29.2h-3ZM24.55 444.6h3v3.7h-3ZM29.18 446.0h3v16.0h-3ZM61.59 314.6h3v1.7h-3ZM75.48 220.0h3v15.4h-3ZM89.37 193.0h3v8.9h-3ZM98.63 175.8h3v56.5h-3ZM107.89 210.0h3v5.0h-3ZM117.15 175.4h3v2.6h-3ZM140.30 72.7h3v5.2h-3ZM149.56 79.6h3v81.2h-3ZM154.19 156.5h3v29.3h-3ZM177.34 166.5h3v16.5h-3ZM181.97 194.0h3v38.5h-3ZM186.60 218.0h3v14.0h-3ZM191.23 231.0h3v3.0h-3ZM195.86 226.0h3v15.5h-3ZM205.12 217.5h3v3.5h-3ZM209.75 213.0h3v32.6h-3ZM214.38 237.5h3v60.5h-3ZM242.16 182.0h3v51.0h-3ZM246.79 233.0h3v33.6h-3ZM256.05 217.6h3v14.9h-3ZM260.68 233.0h3v15.0h-3ZM265.31 248.3h3v46.5h-3ZM269.94 284.4h3v29.2h-3ZM274.57 317.0h3v58.0h-3ZM279.20 381.0h3v19.8h-3ZM283.83 392.4h3v2.1h-3ZM288.46 398.0h3v34.5h-3ZM293.09 410.0h3v49.7h-3ZM306.98 373.0h3v14.6h-3ZM316.24 393.0h3v30.5h-3ZM330.13 366.0h3v25.8h-3ZM344.02 374.0h3v10.0h-3ZM348.65 377.8h3v27.8h-3ZM367.17 352.8h3v11.1h-3ZM381.06 341.0h3v62.5h-3ZM390.32 424.0h3v34.0h-3ZM394.95 437.8h3v41.7h-3ZM399.58 517.0h3v14.7h-3ZM404.21 531.7h3v24.3h-3ZM418.10 341.7h3v15.0h-3ZM431.99 265.6h3v57.7h-3ZM436.62 320.7h3v29.3h-3ZM441.25 360.8h3v24.8h-3ZM455.14 309.9h3v3.6h-3ZM464.40 335.0h3v30.0h-3ZM469.03 361.0h3v41.0h-3ZM473.66 408.8h3v22.2h-3ZM478.29 423.0h3v29.0h-3ZM501.44 345.4h3v30.4h-3ZM506.07 361.8h3v31.2h-3ZM533.85 225.0h3v69.6h-3ZM543.11 267.0h3v16.5h-3ZM557.00 190.6h3v45.4h-3ZM561.63 232.8h3v15.1h-3ZM566.26 253.0h3v31.8h-3ZM575.52 247.9h3v50.1h-3ZM580.15 298.0h3v15.8h-3ZM594.04 285.6h3v53.8h-3ZM607.93 246.6h3v20.7h-3ZM612.56 265.2h3v3.8h-3ZM617.19 274.6h3v26.4h-3ZM621.82 304.7h3v30.8h-3ZM635.71 294.0h3v26.5h-3ZM640.34 315.8h3v3.2h-3ZM644.97 318.6h3v8.4h-3ZM649.60 323.0h3v25.7h-3ZM654.23 343.0h3v33.0h-3ZM658.86 376.0h3v4.0h-3ZM663.49 385.5h3v21.5h-3ZM672.75 384.8h3v29.7h-3ZM700.53 309.2h3v43.0h-3ZM723.68 256.0h3v21.3h-3ZM728.31 272.7h3v7.6h-3ZM732.94 287.2h3v14.6h-3ZM737.57 297.8h3v28.2h-3ZM742.20 324.6h3v20.4h-3ZM756.09 313.0h3v9.2h-3ZM765.35 308.5h3v51.5h-3ZM779.24 327.5h3v97.9h-3ZM783.87 422.6h3v15.6h-3ZM816.28 374.0h3v39.7h-3ZM834.80 354.3h3v13.7h-3ZM839.43 368.8h3v11.2h-3ZM848.69 359.0h3v42.3h-3ZM862.58 392.6h3v19.2h-3ZM867.21 412.4h3v19.0h-3ZM881.10 390.0h3v34.2h-3ZM885.73 424.2h3v34.2h-3ZM890.36 460.0h3v50.0h-3ZM894.99 497.7h3v32.3h-3ZM904.25 500.0h3v28.6h-3ZM908.88 523.0h3v17.0h-3ZM918.14 507.4h3v26.4h-3ZM922.77 532.5h3v3.2h-3ZM945.92 469.0h3v22.6h-3ZM959.81 447.5h3v2.5h-3ZM964.44 453.9h3v16.6h-3ZM973.70 460.0h3v35.4h-3ZM978.33 498.0h3v6.3h-3ZM992.22 457.0h3v23.0h-3ZM996.85 476.7h3v4.3h-3ZM1006.11 472.8h3v47.0h-3ZM1010.74 517.0h3v19.0h-3ZM1020.00 538.0h3v32.4h-3ZM1029.26 546.7h3v19.0h-3ZM1033.89 567.8h3v9.2h-3ZM1038.52 581.5h3v2.5h-3ZM1047.78 551.4h3v1.6h-3ZM1052.41 538.0h3v25.5h-3ZM1057.04 565.7h3v3.3h-3ZM1070.93 494.2h3v11.6h-3ZM1080.19 490.0h3v15.8h-3ZM1089.45 462.8h3v40.2h-3ZM1098.71 476.0h3v7.0h-3ZM1103.34 508.4h3v8.6h-3ZM1117.23 464.0h3v7.5h-3ZM1121.86 468.8h3v16.7h-3ZM1131.12 467.0h3v35.0h-3ZM1135.75 498.5h3v16.2h-3ZM1140.38 520.0h3v18.3h-3ZM1145.01 537.4h3v19.0h-3ZM1149.64 550.0h3v11.1h-3ZM1168.16 503.8h3v13.2h-3Z" fill="#f23645"/><circle cx="964.6" cy="450.15" r="44.75" fill="rgb(225,189,36)" fill-opacity="0.47"/><circle cx="1100.2" cy="481.0" r="44.75" fill="rgb(225,189,36)" fill-opacity="0.47"/></g><g fill="#131722" font-size="11.6"><text x="1242.7" y="45.7" textLength="25.5" lengthAdjust="spacingAndGlyphs">4.850%</text><text x="1242.7" y="75.9" textLength="25.5" lengthAdjust="spacingAndGlyphs">4.800%</text><text x="1242.7" y="106.1" textLength="25.5" lengthAdjust="spacingAndGlyphs">4.750%</text><text x="1242.7" y="136.3" textLength="25.5" lengthAdjust="spacingAndGlyphs">4.700%</text><text x="1242.7" y="166.5" textLength="25.5" lengthAdjust="spacingAndGlyphs">4.650%</text><text x="1242.7" y="196.7" textLength="25.5" lengthAdjust="spacingAndGlyphs">4.600%</text><text x="1242.7" y="226.9" textLength="25.5" lengthAdjust="spacingAndGlyphs">4.550%</text><text x="1242.7" y="257.1" textLength="25.5" lengthAdjust="spacingAndGlyphs">4.500%</text><text x="1242.7" y="287.3" textLength="25.5" lengthAdjust="spacingAndGlyphs">4.450%</text><text x="1242.7" y="317.5" textLength="25.5" lengthAdjust="spacingAndGlyphs">4.400%</text><text x="1242.7" y="347.7" textLength="25.5" lengthAdjust="spacingAndGlyphs">4.350%</text><text x="1242.7" y="377.9" textLength="25.5" lengthAdjust="spacingAndGlyphs">4.300%</text><text x="1242.7" y="408.1" textLength="25.5" lengthAdjust="spacingAndGlyphs">4.250%</text><text x="1242.7" y="438.3" textLength="25.5" lengthAdjust="spacingAndGlyphs">4.200%</text><text x="1242.7" y="468.5" textLength="25.5" lengthAdjust="spacingAndGlyphs">4.150%</text><text x="1242.7" y="498.7" textLength="25.5" lengthAdjust="spacingAndGlyphs">4.100%</text><text x="1242.7" y="528.9" textLength="25.5" lengthAdjust="spacingAndGlyphs">4.050%</text><text x="1242.7" y="559.1" textLength="25.5" lengthAdjust="spacingAndGlyphs">4.000%</text><text x="1242.6" y="589.3" textLength="25.5" lengthAdjust="spacingAndGlyphs">3.950%</text><text x="1242.6" y="619.5" textLength="25.5" lengthAdjust="spacingAndGlyphs">3.900%</text><text x="1242.6" y="649.7" textLength="25.5" lengthAdjust="spacingAndGlyphs">3.850%</text><text x="1242.6" y="679.9" textLength="25.5" lengthAdjust="spacingAndGlyphs">3.800%</text></g><rect x="1237.1" y="417.5" width="41.65" height="28.3" rx="1.5" fill="#089981"/><text x="1242.1" y="429.6" font-size="11.3" font-weight="bold" fill="#fff" textLength="26.3" lengthAdjust="spacingAndGlyphs">4.168%</text><text x="1242.2" y="442.1" font-size="10.2" fill="#fff" fill-opacity="0.85" textLength="33.1" lengthAdjust="spacingAndGlyphs">21:29:45</text><rect x="1237.1" y="445.8" width="34.7" height="15.0" rx="1.5" fill="#43a047"/><text x="1242.1" y="457.3" font-size="11.3" font-weight="bold" fill="#fff" textLength="26.3" lengthAdjust="spacingAndGlyphs">4.168%</text><rect x="1237.1" y="501.5" width="34.7" height="15.1" rx="1.5" fill="#2962ff"/><text x="1242.1" y="513.05" font-size="11.3" font-weight="bold" fill="#fff" textLength="26.3" lengthAdjust="spacingAndGlyphs">4.077%</text><rect x="1237.1" y="517.2" width="34.7" height="14.8" rx="1.5" fill="#b71c1c"/><text x="1242.1" y="528.6" font-size="11.3" font-weight="bold" fill="#fff" textLength="26.3" lengthAdjust="spacingAndGlyphs">4.077%</text><rect x="1237.1" y="533.0" width="34.7" height="14.6" rx="1.5" fill="#a5d6a7"/><text x="1242.0" y="544.3" font-size="11.3" fill="#131722" textLength="26.4" lengthAdjust="spacingAndGlyphs">4.077%</text><rect x="1237.1" y="548.5" width="34.7" height="15.0" rx="1.5" fill="#ef9a9a"/><text x="1242.0" y="560.0" font-size="11.3" fill="#131722" textLength="26.4" lengthAdjust="spacingAndGlyphs">4.068%</text><rect x="1239.5" y="0.5" width="40" height="22.8" rx="3" fill="#fff" stroke="#ececf0" stroke-width="1"/><text x="1241.6" y="15.4" font-size="12.4" fill="#131722" textLength="5.9" lengthAdjust="spacingAndGlyphs">%</text><path d="M1260 704.4l4.7 2.85v5.6l-4.7 2.85l-4.7-2.85v-5.6Z" fill="none" stroke="#131722" stroke-width="1"/><ellipse cx="1260" cy="710.05" rx="1.3" ry="1.6" fill="none" stroke="#131722" stroke-width="0.9"/><g fill="#131722" font-size="12"><text x="3.1" y="713.7" textLength="17.3" lengthAdjust="spacingAndGlyphs">12月</text><text x="99.3" y="713.7" font-weight="bold" textLength="19.3" lengthAdjust="spacingAndGlyphs">2025</text><text x="199.9" y="713.7" textLength="12.7" lengthAdjust="spacingAndGlyphs">2月</text><text x="287.9" y="713.7" textLength="12.7" lengthAdjust="spacingAndGlyphs">3月</text><text x="385.1" y="713.7" textLength="12.7" lengthAdjust="spacingAndGlyphs">4月</text><text x="482.3" y="713.7" textLength="12.7" lengthAdjust="spacingAndGlyphs">5月</text><text x="579.6" y="713.7" textLength="12.7" lengthAdjust="spacingAndGlyphs">6月</text><text x="672.2" y="713.7" textLength="12.7" lengthAdjust="spacingAndGlyphs">7月</text><text x="774.0" y="713.7" textLength="12.7" lengthAdjust="spacingAndGlyphs">8月</text><text x="871.2" y="713.7" textLength="12.7" lengthAdjust="spacingAndGlyphs">9月</text><text x="966.1" y="713.7" textLength="17.3" lengthAdjust="spacingAndGlyphs">10月</text><text x="1068.0" y="713.7" textLength="17.3" lengthAdjust="spacingAndGlyphs">11月</text><text x="1151.3" y="713.7" textLength="17.3" lengthAdjust="spacingAndGlyphs">12月</text></g><defs><clipPath id="fl"><ellipse cx="14.5" cy="11.5" rx="6.3" ry="8.3"/></clipPath></defs><g clip-path="url(#fl)"><rect x="8" y="3" width="13" height="17" fill="#fff"/><rect x="8" y="3.00" width="13" height="4.00" fill="#e8473f"/><rect x="8" y="10.40" width="13" height="2.90" fill="#e8473f"/><rect x="8" y="16.00" width="13" height="4.00" fill="#e8473f"/><rect x="8" y="3" width="8.3" height="10.4" fill="#4a8be0"/><rect x="9.7" y="4.4" width="1.1" height="1.3" fill="#c9dcf6"/><rect x="11.9" y="4.4" width="1.1" height="1.3" fill="#c9dcf6"/><rect x="14.1" y="4.4" width="1.1" height="1.3" fill="#c9dcf6"/><rect x="9.7" y="6.7" width="1.1" height="1.3" fill="#c9dcf6"/><rect x="11.9" y="6.7" width="1.1" height="1.3" fill="#c9dcf6"/><rect x="14.1" y="6.7" width="1.1" height="1.3" fill="#c9dcf6"/><rect x="9.7" y="9.0" width="1.1" height="1.3" fill="#c9dcf6"/><rect x="11.9" y="9.0" width="1.1" height="1.3" fill="#c9dcf6"/><rect x="14.1" y="9.0" width="1.1" height="1.3" fill="#c9dcf6"/><rect x="9.7" y="11.3" width="1.1" height="1.3" fill="#c9dcf6"/><rect x="11.9" y="11.3" width="1.1" height="1.3" fill="#c9dcf6"/><rect x="14.1" y="11.3" width="1.1" height="1.3" fill="#c9dcf6"/></g><g fill="#131722"><text x="24.1" y="17.75" font-size="14" textLength="33.5" lengthAdjust="spacingAndGlyphs">米国債</text><text x="58.4" y="17.7" font-size="14.6" textLength="10.4" lengthAdjust="spacingAndGlyphs">10</text><text x="69.45" y="17.75" font-size="14" textLength="57.45" lengthAdjust="spacingAndGlyphs">年物利回り</text></g><ellipse cx="130.35" cy="10.9" rx="0.95" ry="1.15" fill="#131722"/><g fill="#131722"><text x="135.1" y="17.7" font-size="14.6" textLength="3.9" lengthAdjust="spacingAndGlyphs">1</text><text x="140.0" y="17.75" font-size="14" textLength="12.0" lengthAdjust="spacingAndGlyphs">日</text></g><ellipse cx="156.15" cy="10.9" rx="0.95" ry="1.15" fill="#131722"/><text x="160.7" y="17.7" font-size="14.6" fill="#131722" textLength="19.4" lengthAdjust="spacingAndGlyphs">TVC</text><text x="185.7" y="17.0" font-size="11.4" fill="#131722" textLength="18.1" lengthAdjust="spacingAndGlyphs">始値</text><text x="204.6" y="16.4" font-size="11.8" fill="#089981" textLength="28.2" lengthAdjust="spacingAndGlyphs">4.166%</text><text x="237.5" y="17.0" font-size="11.4" fill="#131722" textLength="17.8" lengthAdjust="spacingAndGlyphs">高値</text><text x="255.9" y="16.4" font-size="11.8" fill="#089981" textLength="28.5" lengthAdjust="spacingAndGlyphs">4.172%</text><text x="288.7" y="17.0" font-size="11.4" fill="#131722" textLength="18.5" lengthAdjust="spacingAndGlyphs">安値</text><text x="308.0" y="16.4" font-size="11.8" fill="#089981" textLength="27.7" lengthAdjust="spacingAndGlyphs">4.166%</text><text x="339.9" y="17.0" font-size="11.4" fill="#131722" textLength="18.4" lengthAdjust="spacingAndGlyphs">終値</text><text x="359.1" y="16.4" font-size="11.8" fill="#089981" textLength="27.7" lengthAdjust="spacingAndGlyphs">4.168%</text><text x="391.5" y="16.4" font-size="11.8" fill="#089981" textLength="26.4" lengthAdjust="spacingAndGlyphs">−0.002</text><text x="421.6" y="16.4" font-size="11.8" fill="#089981" textLength="34.9" lengthAdjust="spacingAndGlyphs">(−0.05%)</text><rect x="8.7" y="26.7" width="20.5" height="18.4" rx="3" fill="#fff" stroke="#e0e3eb" stroke-width="1"/><path d="M12.3 34.2l2.9 3.5l2.9-3.5" fill="none" stroke="#131722" stroke-width="1.4"/><text x="21.9" y="40.0" font-size="11.4" fill="#131722" textLength="4.8" lengthAdjust="spacingAndGlyphs">2</text><ellipse cx="47.9" cy="36.5" rx="6.3" ry="8" fill="#eee7fd"/><g fill="none" stroke="#6a3df5" stroke-width="1.5"><path d="M44.4 35.6a3.6 4.6 0 0 1 6.4-2.6"/><path d="M51.4 37.4a3.6 4.6 0 0 1-6.4 2.6"/></g><path d="M51.9 31.8v3.2h-2.6Z M43.9 41.2v-3.2h2.6Z" fill="#6a3df5"/><path d="M10.65 670.2H19.4V683.7H14.9V675.3H10.65Z M26.2 670.2H31.6L28.4 683.7H22.6Z" fill="#0b0b10"/><ellipse cx="22.4" cy="672.6" rx="1.8" ry="2.4" fill="#0b0b10"/></svg></body></html>
